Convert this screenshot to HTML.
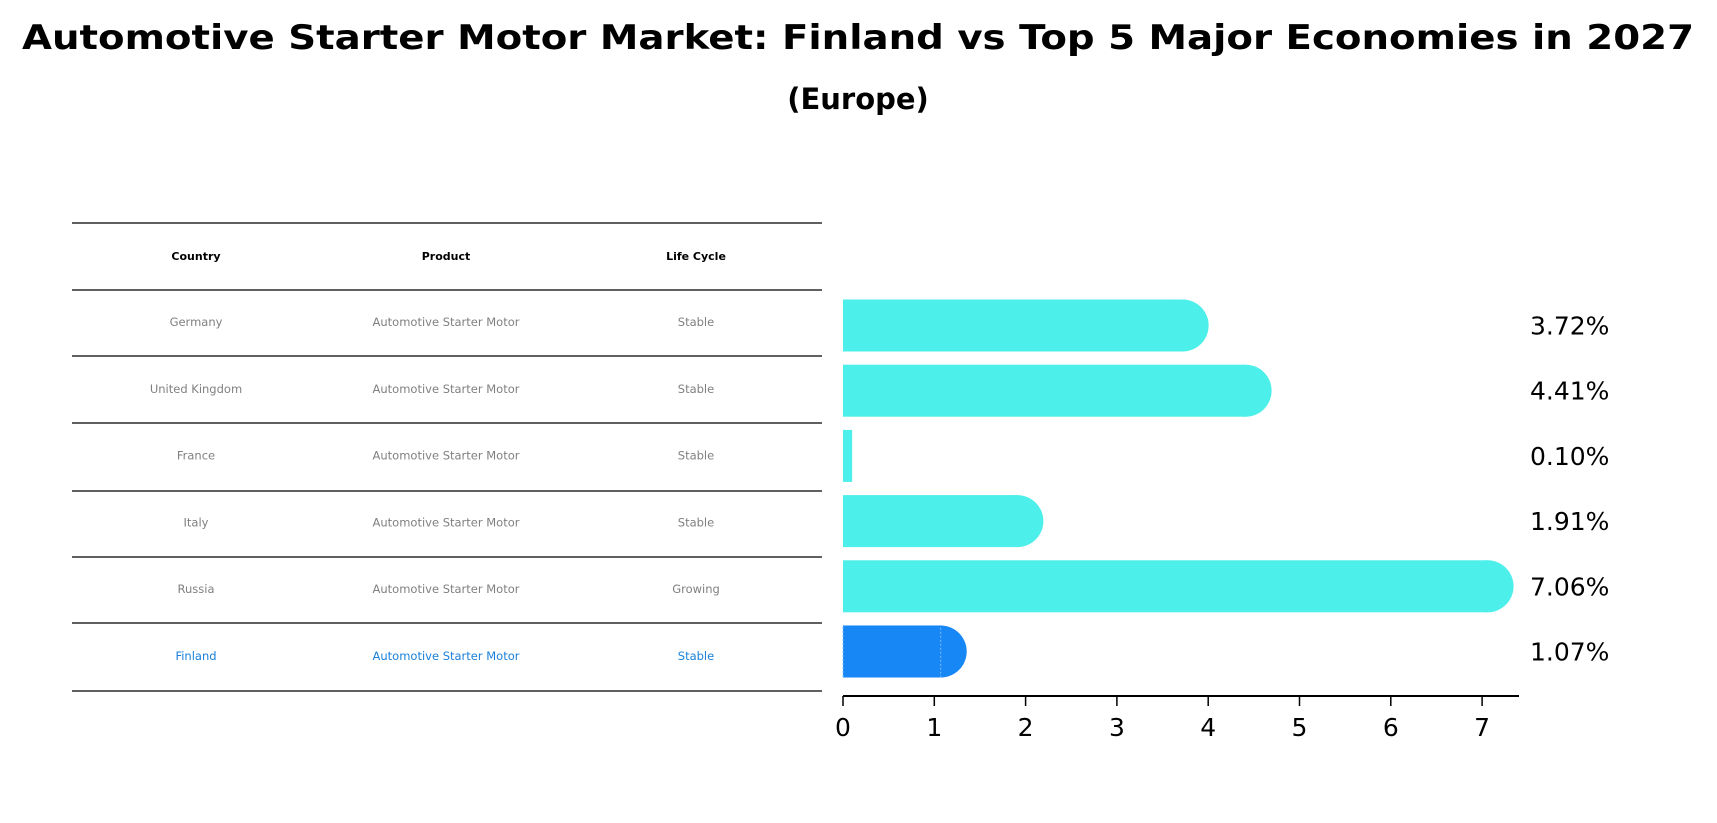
<!DOCTYPE html>
<html><head><meta charset="utf-8"><style>
body{margin:0;background:#fff;}
svg{display:block;font-family:"DejaVu Sans","Liberation Sans",sans-serif;}
</style></head><body>
<svg id="chart" width="1717" height="823" viewBox="0 0 1717 823">
<text x="858" y="49" text-anchor="middle" font-size="34" font-weight="bold" textLength="1672" lengthAdjust="spacingAndGlyphs">Automotive Starter Motor Market: Finland vs Top 5 Major Economies in 2027</text>
<text x="858" y="109" text-anchor="middle" font-size="29" font-weight="bold">(Europe)</text>
<g id="table"></g>
<g id="bars"></g>
</svg>
<script>
const countries = ["Germany","United Kingdom","France","Italy","Russia","Finland"];
const products = ["Automotive Starter Motor","Automotive Starter Motor","Automotive Starter Motor","Automotive Starter Motor","Automotive Starter Motor","Automotive Starter Motor"];
const lifeCycles = ["Stable","Stable","Stable","Stable","Growing","Stable"];
const values = [3.72,4.41,0.10,1.91,7.06,1.07];
const tickLabels = [0,1,2,3,4,5,6,7];

const NS="http://www.w3.org/2000/svg";
function mk(tag,attrs,parent){const e=document.createElementNS(NS,tag);for(const k in attrs)e.setAttribute(k,attrs[k]);parent.appendChild(e);return e;}
const table=document.getElementById('table');
const bars=document.getElementById('bars');
// table
const lineYs=[223,290,356,423,491,557,623,691];
lineYs.forEach((y,i)=>{const l=mk('line',{x1:72,x2:822,y1:y,y2:y,stroke:'#000','stroke-width':1.3},table);

});
const colX=[196,446,696];
["Country","Product","Life Cycle"].forEach((h,i)=>{const t=mk('text',{x:colX[i],y:260,'text-anchor':'middle','font-size':11,'font-weight':'bold'},table);t.textContent=h;

});
const rowH=66.8, row0=322;
countries.forEach((c,i)=>{
  const y=row0+i*rowH+4;
  const col=i===countries.length-1?'#1a80d9':'#808080';
  [c,products[i],lifeCycles[i]].forEach((v,j)=>{
    const t=mk('text',{x:colX[j],y:y,'text-anchor':'middle','font-size':11.5,fill:col},table);t.textContent=v;
    
    
  });
});
// bars
const x0=843, unit=91.3, bandTop=293, pitch=65.2, bh=52, axisY=696;
function xs(v){return x0+v*unit;}
values.forEach((v,i)=>{
  const yc=bandTop+pitch*i+32.5;
  const fin=i===values.length-1;
  const color=fin?'#1787f5':'#4cefea';
  const g=mk('g',{},bars);
  
  
  mk('rect',{x:x0,y:yc-bh/2,width:xs(v)-x0,height:bh,fill:color},g);
  if(v>0.5) mk('circle',{cx:xs(v),cy:yc,r:bh/2,fill:color},g);
  if(fin) mk('rect',{x:x0,y:yc-bh/2,width:xs(v)-x0,height:bh,fill:'none',stroke:'#7fbfff','stroke-width':1,'stroke-dasharray':'2,2'},g);
  const t=mk('text',{x:1530,y:yc+9,'font-size':25,fill:'#000'},bars);
  t.textContent=v.toFixed(2)+'%';
  
  
});
const ax=mk('line',{x1:x0,x2:1519,y1:axisY,y2:axisY,stroke:'#000','stroke-width':2},bars);


tickLabels.forEach(v=>{
  const tk=mk('line',{x1:xs(v),x2:xs(v),y1:axisY,y2:axisY+10,stroke:'#000','stroke-width':1.5},bars);
  
  
  const t=mk('text',{x:xs(v),y:736,'text-anchor':'middle','font-size':25},bars);
  t.textContent=v;
  
  
});
</script>
</body></html>
